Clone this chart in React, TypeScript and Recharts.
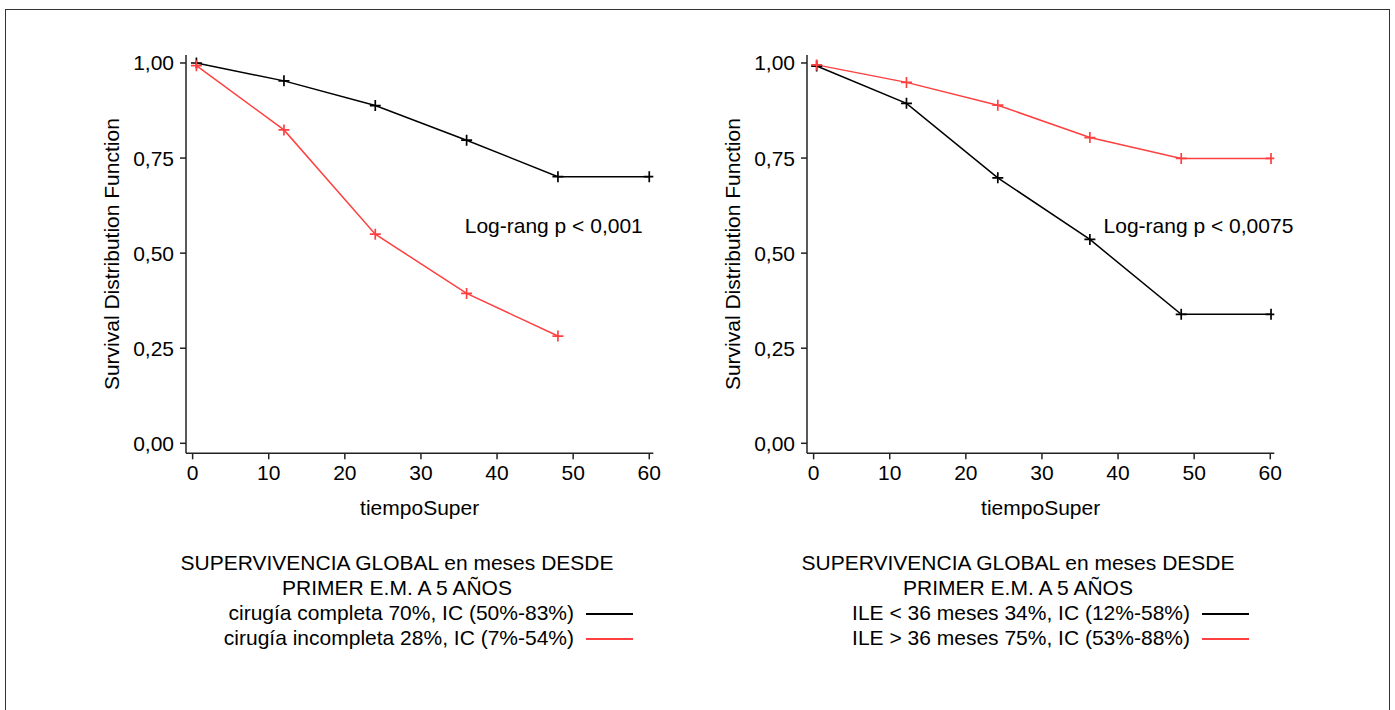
import { LineChart, Line, XAxis, YAxis, ReferenceDot } from "recharts";

const FONT = '"Liberation Sans", Arial, Helvetica, sans-serif';
const RED = "#ff4040";
const BLACK = "#000";

// months at which the survival estimates were plotted
const monthsLeft = [0.5, 12, 24, 36, 48, 60];
const monthsRight = [0.4, 12.2, 24.2, 36.3, 48.3, 60.1];

// left panel: cirugía completa / incompleta
const cirugiaCompleta = [1.0, 0.953, 0.888, 0.797, 0.701, 0.701];
const cirugiaIncompleta = [0.993, 0.824, 0.55, 0.394, 0.282];

// right panel: ILE < 36 / > 36 meses
const ileMenor36 = [0.992, 0.894, 0.698, 0.536, 0.339, 0.339];
const ileMayor36 = [0.995, 0.949, 0.889, 0.804, 0.749, 0.749];

const xTicks = [0, 10, 20, 30, 40, 50, 60];
const yTicks = [0, 0.25, 0.5, 0.75, 1];

const titleLines = ["SUPERVIVENCIA GLOBAL en meses DESDE", "PRIMER E.M. A 5 AÑOS"];
const leftLegend = ["cirugía completa 70%, IC (50%-83%)", "cirugía incompleta 28%, IC (7%-54%)"];
const rightLegend = ["ILE < 36 meses 34%, IC (12%-58%)", "ILE > 36 meses 75%, IC (53%-88%)"];

const toPoints = (xs: number[], ys: number[]) => ys.map((s, i) => ({ t: xs[i], s }));

const plusDot = (color: string) => (props: any) => {
  const { cx, cy, index } = props;
  if (cx == null || cy == null) return <g key={index} />;
  const h = 5.5;
  return (
    <path
      key={index}
      d={`M${cx - h},${cy} H${cx + h} M${cx},${cy - h} V${cy + h}`}
      stroke={color}
      strokeWidth={1.7}
      fill="none"
    />
  );
};

interface PanelProps {
  left: number;
  black: { t: number; s: number }[];
  red: { t: number; s: number }[];
  note: string;
  noteX: number;
  legend: string[];
  legendEnd: number;
}

function Panel({ left, black, red, note, noteX, legend, legendEnd }: PanelProps) {
  const text = { fontFamily: FONT, fontSize: 21, color: "#000" };
  return (
    <div style={{ position: "absolute", left, top: 0, width: 700, height: 710 }}>
      <LineChart width={700} height={530} margin={{ top: 55, right: 46.7, left: 106, bottom: 6.7 }}>
        <XAxis
          type="number"
          dataKey="t"
          domain={[-0.87, 60.53]}
          allowDataOverflow
          ticks={xTicks}
          height={70}
          stroke="#222"
          strokeWidth={1.5}
          tickSize={6}
          tickMargin={6}
          tick={{ fontSize: 21, fill: "#000", fontFamily: FONT }}
          label={{
            content: (p: any) => (
              <text
                x={p.viewBox.x + p.viewBox.width / 2}
                y={p.viewBox.y + 62}
                textAnchor="middle"
                fontSize={21}
                fontFamily={FONT}
                fill="#000"
              >
                tiempoSuper
              </text>
            ),
          }}
        />
        <YAxis
          type="number"
          dataKey="s"
          domain={[-0.0263, 1.021]}
          allowDataOverflow
          ticks={yTicks}
          width={80}
          stroke="#222"
          strokeWidth={1.5}
          tickSize={6}
          tickMargin={6}
          tickFormatter={(v: number) => v.toFixed(2).replace(".", ",")}
          tick={{ fontSize: 21, fill: "#000", fontFamily: FONT }}
          label={{
            content: (p: any) => {
              const cx = p.viewBox.x + 6;
              const cy = p.viewBox.y + p.viewBox.height / 2;
              return (
                <text
                  x={cx}
                  y={cy}
                  transform={`rotate(-90 ${cx} ${cy})`}
                  textAnchor="middle"
                  dominantBaseline="central"
                  fontSize={21}
                  fontFamily={FONT}
                  fill="#000"
                >
                  Survival Distribution Function
                </text>
              );
            },
          }}
        />
        <Line
          data={black}
          dataKey="s"
          type="linear"
          stroke={BLACK}
          strokeWidth={1.5}
          dot={plusDot(BLACK)}
          activeDot={false}
          isAnimationActive={false}
        />
        <Line
          data={red}
          dataKey="s"
          type="linear"
          stroke={RED}
          strokeWidth={1.5}
          dot={plusDot(RED)}
          activeDot={false}
          isAnimationActive={false}
        />
        <ReferenceDot
          x={noteX}
          y={0.572}
          r={0}
          stroke="none"
          fill="none"
          label={{
            content: (p: any) => (
              <text
                x={p.viewBox.x}
                y={p.viewBox.y}
                dominantBaseline="central"
                fontSize={21}
                fontFamily={FONT}
                fill="#000"
              >
                {note}
              </text>
            ),
          }}
        />
      </LineChart>

      <div style={{ ...text, position: "absolute", left: 0, top: 549.5, width: 794, textAlign: "center", lineHeight: "25px" }}>
        {titleLines.map((l) => (
          <div key={l}>{l}</div>
        ))}
      </div>
      <div style={{ ...text, position: "absolute", left: 0, top: 599.5, width: legendEnd, lineHeight: "25px" }}>
        {legend.map((l, i) => (
          <div key={l} style={{ display: "flex", justifyContent: "flex-end", alignItems: "center", height: 25 }}>
            <span style={{ whiteSpace: "nowrap" }}>{l}</span>
            <div
              style={{
                width: 47,
                height: 2,
                flex: "0 0 47px",
                marginLeft: 12,
                background: i === 0 ? BLACK : RED,
                position: "relative",
                top: 2,
              }}
            />
          </div>
        ))}
      </div>
    </div>
  );
}

export default function App() {
  return (
    <div
      style={{
        position: "fixed",
        left: 0,
        top: 0,
        width: 1395,
        height: 710,
        overflow: "hidden",
        background: "#fff",
      }}
    >
      <div
        style={{
          position: "absolute",
          left: 5,
          top: 9,
          width: 1385,
          height: 800,
          border: "1.5px solid #333",
          boxSizing: "border-box",
        }}
      />
      <Panel
        left={0}
        black={toPoints(monthsLeft, cirugiaCompleta)}
        red={toPoints(monthsLeft.slice(0, cirugiaIncompleta.length), cirugiaIncompleta)}
        note="Log-rang p < 0,001"
        noteX={35.75}
        legend={leftLegend}
        legendEnd={633}
      />
      <Panel
        left={621}
        black={toPoints(monthsRight, ileMenor36)}
        red={toPoints(monthsRight, ileMayor36)}
        note="Log-rang p < 0,0075"
        noteX={38.1}
        legend={rightLegend}
        legendEnd={628}
      />
    </div>
  );
}
